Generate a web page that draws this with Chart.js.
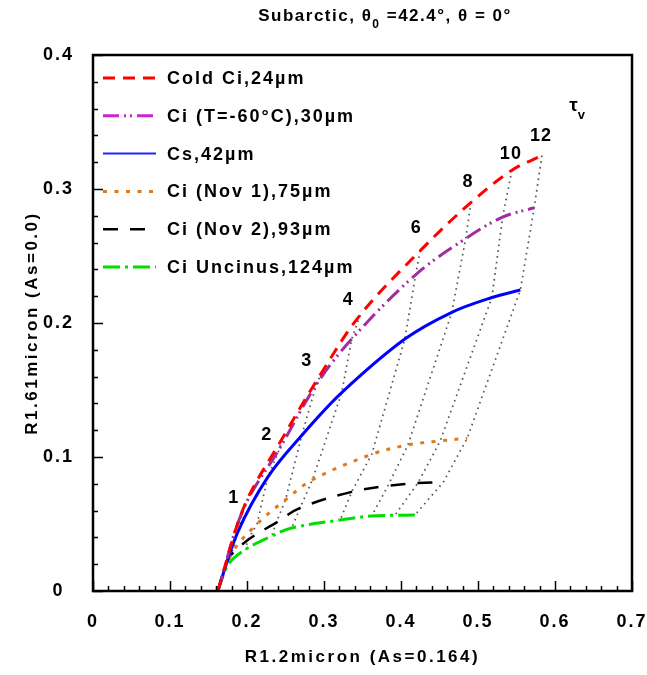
<!DOCTYPE html>
<html>
<head>
<meta charset="utf-8">
<script src="https://cdn.jsdelivr.net/npm/chart.js@4.4.1/dist/chart.umd.min.js"></script>
<style>
html, body { margin: 0; padding: 0; background: #fff; }
canvas { display: block; }
</style>
</head>
<body>
<canvas id="chart" width="647" height="675"></canvas>
<script>
// optical thickness at which each point of a curve is taken
const tauValues = [0, 1, 2, 3, 4, 6, 8, 10, 12];
const tauLabels = ["1", "2", "3", "4", "6", "8", "10", "12"];

const seriesNames = [
	"Cold Ci,24µm",
	"Ci (T=-60°C),30µm",
	"Cs,42µm",
	"Ci (Nov 1),75µm",
	"Ci (Nov 2),93µm",
	"Ci Uncinus,124µm",
];

// R1.2micron values per curve, one per tau
const coldCiX = [0.162, 0.197, 0.245, 0.297, 0.347, 0.425, 0.491, 0.544, 0.583];
const ciT60X = [0.162, 0.196, 0.243, 0.290, 0.336, 0.419, 0.484, 0.532, 0.573];
const csX = [0.162, 0.188, 0.227, 0.271, 0.323, 0.405, 0.466, 0.518, 0.555];
const nov1X = [0.162, 0.180, 0.213, 0.250, 0.285, 0.362, 0.409, 0.451, 0.486];
const nov2X = [0.162, 0.176, 0.201, 0.238, 0.269, 0.336, 0.383, 0.422, 0.455];
const uncinusX = [0.162, 0.176, 0.198, 0.232, 0.258, 0.321, 0.362, 0.392, 0.418];

// R1.61micron values per curve, one per tau
const coldCiY = [0, 0.064, 0.113, 0.163, 0.206, 0.254, 0.290, 0.314, 0.325];
const ciT60Y = [0, 0.062, 0.107, 0.154, 0.188, 0.236, 0.263, 0.279, 0.286];
const csY = [0, 0.044, 0.085, 0.116, 0.148, 0.188, 0.208, 0.219, 0.2246];
const nov1Y = [0, 0.028, 0.050, 0.068, 0.083, 0.102, 0.109, 0.112, 0.114];
const nov2Y = [0, 0.024, 0.038, 0.051, 0.062, 0.074, 0.0785, 0.0806, 0.0813];
const uncinusY = [0, 0.020, 0.031, 0.041, 0.047, 0.053, 0.056, 0.0565, 0.0567];

const xTicks = [0, 0.1, 0.2, 0.3, 0.4, 0.5, 0.6, 0.7];
const yTicks = [0, 0.1, 0.2, 0.3, 0.4];

const FONT = '"Liberation Sans", Arial, sans-serif';

const curveX = [coldCiX, ciT60X, csX, nov1X, nov2X, uncinusX];
const curveY = [coldCiY, ciT60Y, csY, nov1Y, nov2Y, uncinusY];

const curveStyles = [
	{ color: "#ff0000", legend: "#ff0000", dash: [12, 8], width: 3 },
	{ color: "#a22ca2", legend: "#d022d0", dash: [16, 5, 2, 4, 2, 5], width: 3 },
	{ color: "#0000ff", legend: "#2222ff", dash: [], width: 3 },
	{ color: "#e07a20", legend: "#e07a20", dash: [4, 7.5], width: 3 },
	{ color: "#000000", legend: "#000000", dash: [15, 12], width: 2.5 },
	{ color: "#00dd00", legend: "#00dd00", dash: [17, 5, 3, 5], width: 3 },
];

const toPoints = (xs, ys) => xs.map((x, i) => ({ x, y: ys[i] }));

const datasets = curveX.map((xs, k) => ({
	label: seriesNames[k],
	data: toPoints(xs, curveY[k]),
	borderColor: curveStyles[k].color,
	borderDash: curveStyles[k].dash,
	borderWidth: curveStyles[k].width,
	tension: 0.35,
	pointRadius: 0,
	fill: false,
	order: 1,
}));

// dotted iso-tau lines, across the six curves
tauValues.forEach((tau, i) => {
	if (i === 0) return;
	datasets.push({
		label: "tau " + tau,
		data: curveX.map((xs, k) => ({ x: xs[i], y: curveY[k][i] })),
		borderColor: "#555555",
		borderDash: [1.6, 4.2],
		borderWidth: 1.7,
		pointRadius: 0,
		tension: 0,
		fill: false,
		order: 5,
	});
});

// label offsets from the red curve point, in px
const tauOffsets = [[-11, -7], [-15, -5], [-15, -12], [-12, -15], [-4, -23], [-3, -20], [-1, -16], [-1, -19]];

function spaced(ctx, px) {
	if ("letterSpacing" in ctx) ctx.letterSpacing = px + "px";
}

const decor = {
	id: "decor",
	beforeDraw(chart) {
		spaced(chart.ctx, 2);
	},
	afterDatasetsDraw(chart) {
		const { ctx, chartArea: a, scales } = chart;
		const x = scales.x;
		const y = scales.y;
		ctx.save();

		// inward ticks
		ctx.strokeStyle = "#000";
		ctx.lineWidth = 1.5;
		ctx.beginPath();
		for (let i = 0; i <= 35; i += 1) {
			const px = Math.round(x.getPixelForValue(i * 0.02)) + 0.5;
			const len = i % 5 === 0 ? 10 : 5;
			ctx.moveTo(px, a.bottom);
			ctx.lineTo(px, a.bottom - len);
		}
		for (let i = 0; i <= 20; i += 1) {
			const py = Math.round(y.getPixelForValue(i * 0.02)) + 0.5;
			const len = i % 5 === 0 ? 10 : 5;
			ctx.moveTo(a.left, py);
			ctx.lineTo(a.left + len, py);
		}
		ctx.stroke();

		// frame
		ctx.lineWidth = 2.5;
		ctx.strokeRect(a.left, a.top, a.right - a.left, a.bottom - a.top);

		// tau labels along the cold cirrus curve
		const red = chart.getDatasetMeta(0).data;
		ctx.fillStyle = "#000";
		ctx.font = "bold 18px " + FONT;
		spaced(ctx, 1);
		ctx.textAlign = "center";
		ctx.textBaseline = "middle";
		tauLabels.forEach((t, i) => {
			const p = red[i + 1];
			ctx.fillText(t, p.x + tauOffsets[i][0], p.y + tauOffsets[i][1]);
		});
		const last = red[red.length - 1];
		ctx.font = "bold 19px " + FONT;
		ctx.fillText("τ", last.x + 32, last.y - 50);
		ctx.font = "bold 13px " + FONT;
		ctx.fillText("v", last.x + 40, last.y - 40);

		// legend
		ctx.textAlign = "left";
		ctx.font = "bold 18px " + FONT;
		spaced(ctx, 2);
		seriesNames.forEach((name, k) => {
			const ry = 78 + k * 37.8;
			const st = curveStyles[k];
			ctx.save();
			ctx.strokeStyle = st.legend;
			ctx.lineWidth = k === 2 ? 2 : st.width;
			ctx.setLineDash(st.dash);
			ctx.beginPath();
			ctx.moveTo(a.left + 10, ry);
			ctx.lineTo(a.left + 63, ry);
			ctx.stroke();
			ctx.restore();
			ctx.fillText(name, a.left + 74, ry + 1);
		});

		// title
		ctx.font = "bold 17px " + FONT;
		spaced(ctx, 1.5);
		const parts = ["Subarctic, θ", "0", " =42.4°, θ = 0°"];
		const w0 = ctx.measureText(parts[0]).width;
		ctx.font = "bold 12px " + FONT;
		const w1 = ctx.measureText(parts[1]).width;
		ctx.font = "bold 17px " + FONT;
		const w2 = ctx.measureText(parts[2]).width;
		const tx = 385 - (w0 + w1 + w2) / 2;
		ctx.fillText(parts[0], tx, 16);
		ctx.font = "bold 12px " + FONT;
		ctx.fillText(parts[1], tx + w0, 25);
		ctx.font = "bold 17px " + FONT;
		ctx.fillText(parts[2], tx + w0 + w1, 16);

		// axis titles
		ctx.font = "bold 17px " + FONT;
		spaced(ctx, 2.5);
		ctx.textAlign = "center";
		ctx.fillText("R1.2micron (As=0.164)", (a.left + a.right) / 2, 657);
		ctx.save();
		ctx.translate(32, (a.top + a.bottom) / 2);
		ctx.rotate(-Math.PI / 2);
		ctx.fillText("R1.61micron (As=0.0)", 0, 0);
		ctx.restore();

		ctx.restore();
	},
};

new Chart(document.getElementById("chart"), {
	type: "line",
	data: { datasets },
	options: {
		responsive: false,
		animation: false,
		events: [],
		layout: { padding: { left: 0, right: 15, top: 55, bottom: 0 } },
		plugins: {
			legend: { display: false },
			title: { display: false },
			tooltip: { enabled: false },
		},
		scales: {
			x: {
				type: "linear",
				min: 0,
				max: 0.7,
				afterFit(scale) {
					scale.height = 84;
					scale.paddingLeft = 0;
					scale.paddingRight = 0;
				},
				afterBuildTicks(scale) {
					scale.ticks = xTicks.map((v) => ({ value: v }));
				},
				grid: { display: false, drawTicks: false },
				border: { display: false },
				ticks: {
					color: "#000",
					padding: 20,
					maxRotation: 0,
					font: { family: FONT, size: 18, weight: "bold" },
					callback: (v) => String(v),
				},
			},
			y: {
				type: "linear",
				min: 0,
				max: 0.4,
				afterFit(scale) {
					scale.width = 93;
					scale.paddingTop = 0;
					scale.paddingBottom = 0;
				},
				afterBuildTicks(scale) {
					scale.ticks = yTicks.map((v) => ({ value: v }));
				},
				grid: { display: false, drawTicks: false },
				border: { display: false },
				ticks: {
					color: "#000",
					padding: 22,
					crossAlign: "center",
					font: { family: FONT, size: 18, weight: "bold" },
					callback: (v) => String(v),
				},
			},
		},
	},
	plugins: [decor],
});
</script>
</body>
</html>
